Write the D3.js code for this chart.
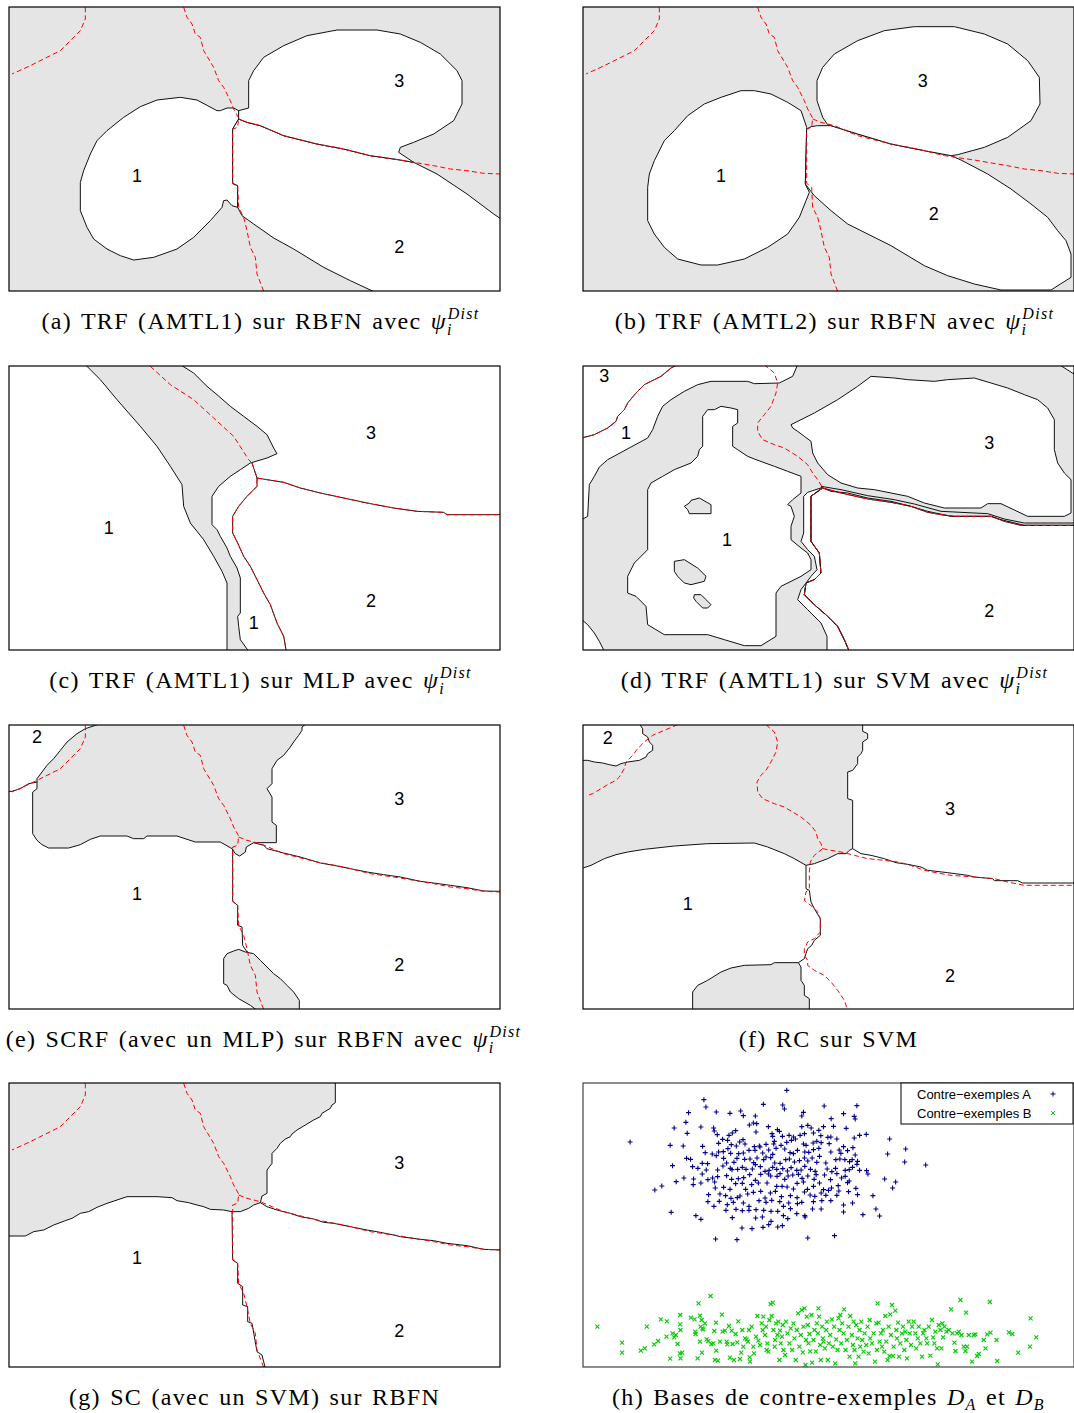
<!DOCTYPE html>
<html>
<head>
<meta charset="utf-8">
<script src="https://cdn.jsdelivr.net/npm/d3@7"></script>
<style>
  body { margin: 0; background: #fff; }
  svg { display: block; }
  .cap { font-family: "Liberation Serif", "DejaVu Serif", serif; font-size: 24px; letter-spacing: 1.3px; word-spacing: 2px; }
  .lab { font-family: "Liberation Sans", Arial, sans-serif; font-size: 18px; }
  .leg { font-family: "Liberation Sans", Arial, sans-serif; font-size: 13px; }
</style>
</head>
<body>
<script>
// ---- feature-space data (decision maps), units of the 2D input space ----

// true class frontiers (red dashed), shared by a, b, e, g
const trueArc = [[255,20],[255,55],[240,90],[210,120],[180,150],[130,175],[90,195],[35,220]];
const trueVert = [[550,20],[560,50],[575,70],[585,100],[600,110],[610,150],[625,175],[640,200],[655,240],[670,260],[680,280],[690,300],[700,325],[715,352],[712,380],[697,385],[697,548],[712,560],[715,620],[730,650],[740,690],[750,740],[765,770],[770,820],[790,872]];
const trueHoriz = [[715,355],[740,365],[780,375],[850,405],[950,430],[1030,445],[1110,465],[1200,478],[1240,485],[1300,495],[1350,505],[1400,510],[1450,518],[1499,520]];

// (a) accepted zones
const a_zone1 = [[650,330],[590,298],[540,290],[470,298],[420,318],[370,350],[320,390],[290,420],[270,460],[250,510],[240,545],[240,630],[260,680],[280,715],[320,745],[360,765],[400,778],[460,770],[530,745],[580,710],[630,660],[665,620],[670,600],[680,598],[695,615],[712,620],[712,555],[697,548],[697,385],[715,355],[715,330],[700,322],[680,322],[660,330]];
const a_zone3 = [[715,330],[745,322],[745,240],[760,210],[790,170],[850,135],[920,105],[1010,88],[1130,88],[1200,100],[1260,125],[1320,160],[1370,210],[1385,240],[1385,310],[1360,360],[1300,400],[1240,425],[1200,440],[1195,455],[1240,485],[1200,478],[1110,465],[1030,445],[950,430],[850,405],[780,375],[740,365],[715,355]];
const a_zone2 = [[715,355],[740,365],[780,375],[850,405],[950,430],[1030,445],[1110,465],[1200,478],[1240,485],[1310,520],[1400,580],[1480,640],[1502,655],[1502,875],[1125,875],[1050,840],[970,800],[880,745],[820,712],[760,670],[725,645],[712,620],[712,555],[697,548],[697,385]];
const a_labels = [["3",1197,240],["1",410,525],["2",1197,740]];

// (b)
const b_zone1 = [[697,380],[680,330],[640,305],[590,280],[540,270],[500,270],[440,290],[390,310],[340,345],[300,390],[270,420],[240,480],[225,520],[220,560],[220,660],[240,700],[270,740],[310,775],[380,793],[430,793],[510,775],[580,740],[640,700],[675,650],[695,600],[705,575],[693,550]];
const b_zone3 = [[760,372],[745,350],[728,300],[728,240],[745,200],[780,160],[850,120],[930,90],[1020,78],[1140,78],[1230,100],[1300,130],[1360,180],[1395,230],[1397,310],[1370,360],[1300,410],[1230,440],[1150,462],[1130,465],[1050,450],[950,430],[850,400],[780,378]];
const b_zone2 = [[697,385],[710,378],[730,375],[770,375],[850,400],[950,430],[1050,450],[1130,465],[1160,478],[1240,520],[1310,565],[1370,610],[1420,650],[1450,690],[1475,720],[1490,760],[1490,830],[1430,868],[1280,868],[1200,850],[1120,825],[1050,795],[950,735],[820,670],[770,630],[720,585],[708,570],[693,550]];
const b_labels = [["3",1045,240],["1",440,525],["2",1078,640]];

// (c)
const c_reject = [[255,15],[300,60],[350,120],[420,200],[470,260],[510,320],[545,375],[550,440],[570,490],[610,540],[640,590],[665,635],[680,670],[680,875],[745,875],[720,840],[715,800],[712,770],[720,760],[720,655],[710,625],[690,590],[680,565],[660,530],[650,510],[635,495],[635,410],[655,380],[690,350],[720,330],[750,310],[800,295],[830,282],[820,265],[800,225],[770,200],[730,170],[690,140],[650,105],[620,80],[580,40],[540,15]];
const c_front12 = [[755,310],[765,340],[770,355],[770,380],[740,410],[715,440],[697,470],[697,520],[712,550],[730,590],[750,620],[770,660],[790,700],[810,735],[830,790],[850,830],[858,875]];
const c_front23 = [[770,355],[800,360],[850,368],[900,385],[960,400],[1030,415],[1100,430],[1180,445],[1250,455],[1330,458],[1340,465],[1502,465]];
const c_dash = [[450,20],[510,75],[580,120],[640,175],[700,230],[745,300],[755,310]];
const c_labels = [["3",1112,220],["1",325,505],["2",1112,725],["1",760,790]];

// (d)
const d_zoneTL = [[22,15],[670,15],[655,50],[615,70],[540,72],[520,65],[410,65],[370,75],[330,95],[290,120],[265,140],[250,170],[235,210],[220,235],[170,262],[100,300],[75,322],[60,350],[45,375],[40,470],[22,480]];
const d_front13 = [[22,235],[60,225],[100,205],[125,185],[130,170],[150,150],[160,130],[185,100],[210,75],[260,50],[290,25],[310,15]];
const d_blob = [[400,150],[385,170],[385,260],[375,270],[370,290],[350,310],[300,330],[265,350],[230,370],[220,390],[220,570],[210,580],[180,610],[160,650],[160,700],[185,710],[215,740],[220,795],[270,825],[400,825],[450,840],[510,858],[560,858],[605,830],[605,790],[605,700],[620,680],[680,650],[710,630],[710,600],[700,580],[680,565],[650,540],[650,500],[660,470],[650,440],[640,435],[655,420],[680,400],[680,350],[640,335],[600,320],[545,300],[520,290],[490,270],[475,260],[475,200],[490,190],[490,150],[470,145],[440,140],[420,150]];
const d_hole1 = [[330,440],[345,430],[350,422],[375,415],[410,435],[410,462],[345,462],[340,450]];
const d_hole2 = [[300,605],[330,600],[370,625],[395,650],[390,665],[350,675],[330,670],[310,650],[300,635]];
const d_hole3 = [[360,705],[380,705],[395,720],[410,735],[400,745],[385,745],[365,725],[358,715]];
const d_zone3 = [[650,195],[680,180],[720,160],[790,120],[850,80],[890,50],[960,55],[1000,60],[1080,65],[1120,60],[1200,55],[1250,70],[1300,85],[1350,105],[1390,120],[1420,145],[1440,180],[1440,270],[1450,310],[1470,340],[1490,360],[1490,460],[1470,470],[1360,470],[1280,432],[1240,432],[1220,445],[1110,445],[1050,430],[1000,410],[900,390],[850,385],[800,370],[760,345],[730,310],[715,280],[710,245],[690,230],[670,215],[655,205]];
const d_sliver = [[745,383],[700,398],[688,410],[688,520],[680,545],[700,570],[720,590],[728,630],[710,650],[680,690],[670,720],[700,750],[740,790],[758,830],[758,875],[825,875],[810,840],[790,800],[760,770],[720,735],[690,705],[695,670],[720,660],[740,640],[735,580],[710,545],[710,410]];
const d_zone2 = [[745,385],[770,395],[820,400],[880,415],[950,425],[1010,440],[1060,455],[1130,470],[1250,470],[1280,480],[1350,497],[1502,497],[1502,875],[825,875],[810,840],[790,800],[760,770],[720,735],[690,705],[695,670],[720,660],[740,640],[735,580],[710,545],[710,410]];
const d_inner23 = [[740,380],[800,390],[880,408],[960,420],[1020,433],[1100,455],[1240,462],[1290,478],[1350,490],[1502,490]];
const d_cornerBL = [[22,780],[40,795],[60,820],[75,845],[90,875],[22,875]];
const d_cornerTR = [[1455,15],[1502,15],[1502,45]];
const d_dash = [[570,15],[600,40],[610,70],[605,100],[590,140],[570,165],[550,190],[550,215],[565,240],[600,255],[630,265],[670,290],[700,315],[715,340],[730,360],[745,385]];
const d_front12 = [[745,385],[710,410],[710,545],[735,580],[740,640],[720,660],[695,670],[690,705],[720,735],[760,770],[790,800],[810,840],[825,875]];
const d_front23 = [[745,385],[800,400],[880,418],[950,428],[1010,440],[1060,458],[1100,465],[1140,470],[1250,470],[1290,485],[1340,497],[1502,497]];
const d_labels = [["3",90,50],["1",155,220],["3",1245,250],["1",458,540],["2",1245,755]];

// (e)
const e_reject1 = [[300,15],[255,30],[230,45],[200,70],[180,95],[160,120],[140,140],[125,160],[110,180],[110,210],[97,220],[97,345],[110,365],[125,378],[145,388],[205,388],[240,378],[270,362],[300,352],[380,352],[400,360],[430,360],[440,352],[530,352],[560,362],[585,370],[660,370],[695,390],[705,405],[718,412],[735,400],[738,385],[760,372],[828,372],[828,320],[815,310],[815,235],[800,210],[815,195],[815,150],[830,125],[850,110],[870,85],[880,70],[895,50],[905,35],[905,25],[918,15]];
const e_reject2 = [[670,720],[680,705],[700,697],[715,692],[735,700],[760,705],[780,725],[800,745],[820,765],[840,780],[860,800],[880,820],[897,845],[897,875],[770,875],[750,860],[715,840],[690,820],[680,800],[670,795]];
const e_front21 = [[110,190],[85,195],[60,210],[35,218],[22,218]];
const e_front12 = [[697,390],[697,548],[712,560],[712,620],[725,625],[727,680],[740,700]];
const e_front23 = [[760,372],[790,380],[800,390],[850,403],[900,415],[960,433],[1000,440],[1050,450],[1100,460],[1150,468],[1200,475],[1260,488],[1300,493],[1350,500],[1400,507],[1450,517],[1502,518]];
const e_labels = [["2",110,55],["3",1197,240],["1",410,525],["2",1197,740]];

// (f)
const f_reject1 = [[195,15],[205,30],[205,45],[220,55],[225,70],[235,80],[235,95],[220,105],[215,115],[195,125],[160,130],[140,135],[125,142],[105,138],[85,133],[60,130],[40,125],[20,125],[20,450],[50,440],[70,430],[90,420],[125,408],[160,400],[210,392],[300,382],[400,375],[540,373],[580,385],[630,405],[660,420],[695,440],[720,435],[760,420],[790,405],[815,405],[825,395],[835,390],[835,245],[820,240],[820,160],[835,155],[850,135],[850,115],[860,105],[865,95],[865,70],[880,60],[880,45],[865,38],[865,15]];
const f_reject2 = [[355,875],[355,820],[370,800],[400,785],[440,760],[470,748],[510,740],[590,738],[600,732],[672,732],[680,745],[680,785],[690,800],[690,830],[705,840],[705,875]];
const f_front12 = [[695,440],[695,510],[705,515],[710,550],[720,570],[738,600],[738,650],[720,665],[712,680],[700,690],[695,705],[690,720],[672,732]];
const f_front23 = [[835,390],[860,405],[890,410],[930,420],[965,432],[1000,437],[1040,445],[1060,455],[1120,462],[1180,470],[1200,475],[1255,480],[1260,486],[1330,486],[1345,493],[1502,493]];
const f_dashArc = [[310,18],[270,35],[235,50],[210,70],[190,90],[175,110],[155,130],[150,150],[135,175],[125,185],[105,195],[80,210],[55,225],[35,232]];
const f_dashVert = [[575,18],[600,40],[610,70],[605,100],[590,130],[575,155],[560,170],[548,190],[550,220],[565,240],[600,255],[630,265],[680,295],[710,320],[725,340],[730,360],[740,375],[745,390],[720,410],[708,430],[705,460],[705,510],[695,520],[690,545],[715,565],[730,580],[738,600],[738,640],[720,660],[700,670],[690,690],[690,710],[700,725],[700,740],[720,755],[750,770],[770,790],[790,815],[810,845],[820,875]];
const f_dashHoriz = [[745,390],[770,395],[800,400],[840,410],[880,420],[930,425],[970,430],[1000,437],[1050,455],[1100,465],[1130,470],[1200,475],[1260,480],[1300,490],[1350,500],[1502,500]];
const f_labels = [["2",100,57],["3",1127,272],["1",340,557],["2",1127,772]];

// (g)
const g_reject = [[1005,15],[1005,78],[995,85],[990,95],[965,110],[960,120],[940,130],[915,145],[890,160],[875,172],[870,180],[855,187],[840,200],[830,215],[815,230],[815,260],[800,280],[800,350],[785,358],[780,378],[760,385],[745,395],[720,405],[695,405],[670,400],[630,398],[610,390],[590,385],[565,378],[530,372],[515,363],[470,360],[380,360],[350,370],[320,380],[290,392],[265,405],[240,410],[215,425],[195,432],[160,445],[130,460],[100,465],[75,478],[20,478],[20,15]];
const g_front12 = [[695,405],[697,550],[712,560],[712,620],[727,630],[727,685],[742,690],[742,735],[755,740],[770,825],[785,835],[795,875]];
const g_front23 = [[780,378],[800,390],[830,400],[870,410],[900,420],[940,427],[970,437],[1000,440],[1050,450],[1100,460],[1140,467],[1180,475],[1200,480],[1260,488],[1300,492],[1340,500],[1400,507],[1450,518],[1502,520]];
const g_labels = [["3",1197,258],["1",410,545],["2",1197,763]];

// (h) counter-example bases
const blueA = [
[141,177],[610,22],[362,50],[368,72],[540,64],[598,66],[603,78],[722,69],[820,68],
[316,89],[399,87],[440,91],[472,84],[480,98],[516,99],[655,99],[660,88],[780,92],[812,100],[815,108],[743,107],
[273,135],[308,118],[353,132],[391,135],[498,126],[510,120],[520,122],[555,131],[582,140],[655,131],[673,127],[683,135],[720,131],[750,130],[788,136],
[312,151],[402,155],[393,144],[437,157],[457,143],[447,150],[518,147],[566,152],[588,145],[597,160],[617,157],[630,162],[650,157],[663,152],[690,150],[706,142],[712,158],[733,163],[742,162],[828,157],[848,154],[812,165],[568,160],
[261,187],[300,189],[358,190],[406,181],[418,169],[433,172],[444,185],[459,189],[469,177],[479,170],[485,183],[513,191],[528,189],[548,184],[571,183],[573,175],[593,187],[610,178],[624,172],[636,168],[660,183],[668,187],[689,180],[700,175],[713,179],[737,182],[760,168],[780,191],[808,194],
[366,209],[387,213],[406,207],[420,206],[434,197],[442,211],[466,212],[480,210],[497,202],[515,202],[530,192],[538,210],[556,201],[568,214],[578,196],[604,198],[620,209],[630,212],[642,202],[664,207],[676,208],[690,200],[706,196],[742,207],[767,201],[772,211],[792,203],[815,216],[806,230],
[310,226],[322,229],[357,241],[373,242],[399,218],[421,226],[430,240],[452,238],[461,226],[484,229],[500,228],[511,239],[521,225],[541,230],[548,222],[562,224],[574,240],[590,241],[607,230],[618,228],[633,237],[648,233],[663,225],[673,234],[686,225],[700,238],[708,220],[727,240],[757,230],[769,228],[784,230],[798,236],[822,235],[820,244],
[268,248],[328,251],[344,256],[369,261],[403,261],[419,249],[441,256],[446,260],[463,259],[477,253],[488,259],[507,258],[516,245],[531,251],[545,265],[557,262],[568,253],[580,259],[598,257],[612,264],[623,254],[640,262],[653,261],[664,250],[681,259],[695,265],[731,258],[745,266],[756,256],[785,262],[797,260],[807,253],[828,262],[849,263],[853,273],
[302,285],[279,296],[331,288],[357,273],[374,290],[388,285],[403,281],[430,278],[445,289],[465,287],[481,284],[499,275],[516,292],[532,274],[555,273],[562,279],[581,280],[590,272],[604,289],[614,279],[628,276],[645,274],[656,286],[673,279],[692,289],[698,275],[723,276],[741,290],[760,272],[774,285],[785,280],[797,294],
[215,321],[236,309],[330,305],[353,300],[394,297],[396,315],[421,313],[440,319],[457,302],[477,301],[487,319],[505,305],[525,300],[551,300],[580,310],[596,310],[611,312],[630,318],[641,301],[660,297],[672,319],[690,310],[708,300],[720,320],[735,322],[744,315],[764,308],[792,299],[795,326],[817,316],
[376,335],[410,333],[427,338],[443,346],[462,344],[470,339],[493,333],[510,328],[532,325],[545,345],[561,330],[576,325],[594,341],[621,338],[641,344],[663,327],[680,336],[694,340],[713,330],[727,337],[760,337],[766,324],[822,335],[868,338],
[374,356],[392,370],[408,355],[432,365],[450,358],[480,360],[497,370],[527,353],[548,358],[565,352],[589,356],[600,370],[616,360],[642,362],[655,358],[690,356],[715,353],[742,353],[780,366],[807,360],
[264,388],[338,398],[353,409],[428,382],[447,404],[458,379],[477,383],[497,382],[518,380],[541,382],[563,385],[583,385],[600,398],[621,377],[640,392],[664,398],[687,378],[713,378],[780,387],[838,395],[877,378],[888,399],
[476,435],[506,437],[517,405],[537,402],[539,433],[556,425],[563,415],[583,432],[597,428],[613,407],[665,402],
[397,468],[461,470],[673,465],[753,458],
[918,168],[912,213],[966,198],[963,237],[1026,246],[903,288],[936,297],[927,315]
];
const greenB = [
[43,731],[117,779],[117,809],[173,803],[185,796],[191,731],[213,784],[225,774],[233,709],[251,715],[250,761],[261,827],[268,751],[273,763],[278,756],[283,783],[291,696],[291,724],[292,741],[292,826],[290,811],[297,809],
[323,704],[334,709],[336,746],[337,753],[343,826],[346,661],[350,698],[350,776],[352,731],[355,711],[357,736],[356,809],[360,739],[365,721],[370,769],[375,774],[382,639],[384,783],[390,781],[395,831],[398,719],[399,803],[404,833],[393,744],
[410,776],[416,695],[418,746],[425,743],[430,776],[432,784],[437,729],[440,824],[445,743],[448,783],[452,831],[457,753],[462,778],[465,715],[470,828],[474,809],[477,741],[480,791],[485,766],[490,769],[494,776],[497,741],[499,823],[500,836],
[505,731],[510,791],[512,811],[518,761],[522,699],[525,773],[530,786],[535,721],[538,741],[540,701],[545,756],[548,731],[550,801],[552,781],[555,806],[558,711],[562,663],[565,699],[568,659],[570,741],[574,791],[575,771],[578,721],[582,756],[585,716],[588,831],[590,743],[592,781],[596,761],[598,726],[600,801],
[605,816],[608,716],[612,751],[618,781],[622,736],[626,801],[630,721],[633,766],[637,831],[640,741],[644,691],[648,791],[652,756],[655,681],[658,808],[660,731],[663,676],[666,846],[668,771],[670,701],[673,726],[675,781],[678,753],[680,805],[684,696],[686,839],[690,771],[693,741],[697,805],[700,721],
[703,751],[705,676],[707,701],[710,786],[712,831],[716,731],[718,766],[720,776],[724,796],[728,741],[730,716],[733,831],[736,781],[740,756],[745,709],[748,791],[752,731],[755,841],[758,769],[762,801],[765,706],[768,741],[770,696],[773,781],[776,721],[780,751],[782,679],[786,801],[790,771],[795,731],[798,821],[800,699],
[805,756],[808,786],[810,716],[813,801],[815,841],[818,726],[822,766],[825,821],[828,741],[830,791],[833,716],[836,771],[840,806],[843,751],[848,786],[852,731],[855,811],[858,711],[860,766],[865,781],[870,751],[874,836],[878,721],[880,801],[882,661],[885,719],[888,776],[892,751],[895,791],[898,741],
[902,806],[905,699],[908,776],[912,831],[915,731],[918,819],[920,694],[922,756],[925,666],[928,819],[930,791],[935,683],[938,741],[940,766],[943,719],[946,821],[950,781],[955,751],[958,731],[962,801],[965,746],[968,771],[970,826],[975,716],[978,751],[982,786],[985,731],[990,716],[995,751],[998,796],
[1002,766],[1005,731],[1010,781],[1015,821],[1018,751],[1022,741],[1028,766],[1030,781],[1035,731],[1040,818],[1045,711],[1048,763],[1052,781],[1055,746],[1060,796],[1062,844],[1065,726],[1070,741],[1073,796],[1076,721],[1078,763],[1082,731],[1088,746],[1095,741],[1102,679],[1106,751],[1112,779],[1115,804],[1120,751],
[1125,746],[1130,651],[1133,756],[1140,791],[1145,804],[1147,689],[1150,791],[1155,756],[1165,836],[1170,756],[1175,754],[1180,819],[1185,813],[1200,771],[1205,796],[1210,754],[1218,657],[1220,749],[1238,771],[1240,834],[1275,748],[1285,753],[1303,809],[1338,791],[1340,706],[1357,763]
];
const legendNames = ["Contre\u2212exemples A", "Contre\u2212exemples B"];

const captionText = [
  "(a) TRF (AMTL1) sur RBFN avec",
  "(b) TRF (AMTL2) sur RBFN avec",
  "(c) TRF (AMTL1) sur MLP avec",
  "(d) TRF (AMTL1) sur SVM avec",
  "(e) SCRF (avec un MLP) sur RBFN avec",
  "(f) RC sur SVM",
  "(g) SC (avec un SVM) sur RBFN",
  "(h) Bases de contre-exemples"
];
const captionMath = ["psi", "psi", "psi", "psi", "psi", "", "", "DAB"];

// ---- layout ----
const W = 1074, H = 1413;
const PW = 491, PH = 284;
const colX = [9, 583];
const rowY = [7, 366, 725, 1083];
const GRAY = "#e5e5e5";

const svg = d3.select("body").append("svg")
  .attr("width", W).attr("height", H)
  .attr("viewBox", [0, 0, W, H]);

// feature space -> panel pixels
const x = d3.scaleLinear().domain([26, 1499]).range([0, PW]);
const y = d3.scaleLinear().domain([19, 871]).range([0, PH]);
const line = d3.line().x(d => x(d[0])).y(d => y(d[1]));

const panels = [
  { col: 0, row: 0, bg: GRAY,
    fills: [[a_zone1, "#fff"], [a_zone2, "#fff"], [a_zone3, "#fff"]],
    black: [], red: [trueArc, trueVert, trueHoriz], labels: a_labels },
  { col: 1, row: 0, bg: GRAY,
    fills: [[b_zone1, "#fff"], [b_zone2, "#fff"], [b_zone3, "#fff"]],
    black: [], red: [trueArc, trueVert, trueHoriz], labels: b_labels },
  { col: 0, row: 1, bg: "#fff",
    fills: [[c_reject, GRAY]],
    black: [c_front12, c_front23], red: [c_dash, c_front12, c_front23], labels: c_labels },
  { col: 1, row: 1, bg: GRAY,
    fills: [[d_zoneTL, "#fff"], [d_cornerBL, "#fff"], [d_cornerTR, "#fff"], [d_blob, "#fff"],
            [d_hole1, GRAY], [d_hole2, GRAY], [d_hole3, GRAY], [d_zone3, "#fff"],
            [d_sliver, "#fff"], [d_zone2, "#fff"]],
    black: [d_front13, d_inner23, d_front12, d_front23],
    red: [d_front13, d_dash, d_front12, d_front23], labels: d_labels },
  { col: 0, row: 2, bg: "#fff",
    fills: [[e_reject1, GRAY], [e_reject2, GRAY]],
    black: [e_front21, e_front12, e_front23], red: [trueArc, trueVert, trueHoriz], labels: e_labels },
  { col: 1, row: 2, bg: "#fff",
    fills: [[f_reject1, GRAY], [f_reject2, GRAY]],
    black: [f_front12, f_front23], red: [f_dashArc, f_dashVert, f_dashHoriz], labels: f_labels },
  { col: 0, row: 3, bg: "#fff",
    fills: [[g_reject, GRAY]],
    black: [g_front12, g_front23], red: [trueArc, trueVert, trueHoriz], labels: g_labels }
];

panels.forEach((p, i) => {
  const g = svg.append("g")
    .attr("transform", `translate(${colX[p.col]},${rowY[p.row]})`);
  g.append("clipPath").attr("id", "clip" + i)
    .append("rect").attr("width", PW).attr("height", PH);
  const inner = g.append("g").attr("clip-path", `url(#clip${i})`);

  inner.append("rect").attr("width", PW).attr("height", PH).attr("fill", p.bg);

  inner.selectAll(".zone").data(p.fills).join("path")
    .attr("class", "zone")
    .attr("d", d => line(d[0]) + "Z")
    .attr("fill", d => d[1])
    .attr("stroke", "#111")
    .attr("stroke-width", 1)
    .attr("stroke-linejoin", "round");

  inner.selectAll(".front").data(p.black).join("path")
    .attr("class", "front")
    .attr("d", line)
    .attr("fill", "none")
    .attr("stroke", "#111")
    .attr("stroke-width", 1);

  inner.selectAll(".truth").data(p.red).join("path")
    .attr("class", "truth")
    .attr("d", line)
    .attr("fill", "none")
    .attr("stroke", "#ff0000")
    .attr("stroke-width", 1)
    .attr("stroke-dasharray", "5,3");

  inner.selectAll(".lab").data(p.labels).join("text")
    .attr("class", "lab")
    .attr("x", d => x(d[1]))
    .attr("y", d => y(d[2]))
    .attr("text-anchor", "middle")
    .attr("dominant-baseline", "central")
    .text(d => d[0]);

  g.append("rect").attr("width", PW).attr("height", PH)
    .attr("fill", "none").attr("stroke", "#000").attr("stroke-width", 1.2);
});

// ---- (h) scatter of the two counter-example bases ----
const hx = d3.scaleLinear().domain([0, 1470]).range([colX[1], colX[1] + PW]);
const hy = d3.scaleLinear().domain([0, 852]).range([rowY[3], rowY[3] + PH]);
const plus = "M-2.5,0H2.5M0,-2.5V2.5";
const cross = "M-2,-2L2,2M-2,2L2,-2";

const hp = svg.append("g");
hp.append("rect").attr("x", colX[1]).attr("y", rowY[3]).attr("width", PW).attr("height", PH)
  .attr("fill", "#fff");
hp.selectAll(".ga").data(greenB).join("path")
  .attr("class", "ga")
  .attr("transform", d => `translate(${hx(d[0])},${hy(d[1])})`)
  .attr("d", cross).attr("stroke", "#00cc00").attr("stroke-width", 1.1).attr("fill", "none");
hp.selectAll(".bl").data(blueA).join("path")
  .attr("class", "bl")
  .attr("transform", d => `translate(${hx(d[0])},${hy(d[1])})`)
  .attr("d", plus).attr("stroke", "#00008b").attr("stroke-width", 1.1).attr("fill", "none");
hp.append("rect").attr("x", colX[1]).attr("y", rowY[3]).attr("width", PW).attr("height", PH)
  .attr("fill", "none").attr("stroke", "#444").attr("stroke-width", 1.2);

// legend
const leg = hp.append("g").attr("transform", "translate(901,1083)");
leg.append("rect").attr("width", 172).attr("height", 41)
  .attr("fill", "#fff").attr("stroke", "#000").attr("stroke-width", 1);
leg.selectAll(".leg").data(legendNames).join("text")
  .attr("class", "leg")
  .attr("x", 16).attr("y", (d, i) => 16 + i * 19)
  .text(d => d);
leg.append("path").attr("transform", "translate(152,11)")
  .attr("d", plus).attr("stroke", "#00008b").attr("fill", "none");
leg.append("path").attr("transform", "translate(152,30)")
  .attr("d", cross).attr("stroke", "#00cc00").attr("fill", "none");

// ---- captions ----
captionText.forEach((t, i) => {
  const col = i % 2, row = Math.floor(i / 2);
  const cx = colX[col] + PW / 2 + (captionMath[i] === "psi" ? (i === 4 ? 9 : 6) : 0);
  const txt = svg.append("text").attr("class", "cap")
    .attr("x", cx).attr("y", rowY[row] + PH + 38)
    .attr("text-anchor", "middle");
  txt.append("tspan").text(t + " ");
  if (captionMath[i] === "psi") {
    txt.append("tspan").attr("font-style", "italic").text("\u03c8");
    txt.append("tspan").attr("font-style", "italic").attr("font-size", 16).attr("dy", 6).text("i");
    txt.append("tspan").attr("font-style", "italic").attr("font-size", 16)
      .attr("dx", -5).attr("dy", -16).text("Dist");
  } else if (captionMath[i] === "DAB") {
    txt.append("tspan").attr("font-style", "italic").text("D");
    txt.append("tspan").attr("font-style", "italic").attr("font-size", 16).attr("dy", 5).text("A");
    txt.append("tspan").attr("dy", -5).text(" et ");
    txt.append("tspan").attr("font-style", "italic").text("D");
    txt.append("tspan").attr("font-style", "italic").attr("font-size", 16).attr("dy", 5).text("B");
  }
});
</script>
</body>
</html>
